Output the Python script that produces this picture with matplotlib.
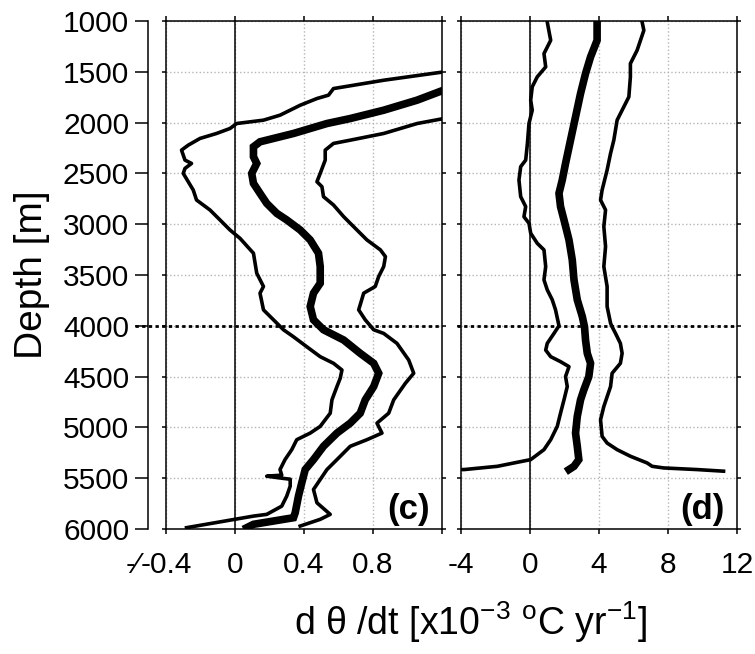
import matplotlib
matplotlib.use("Agg")
import matplotlib.pyplot as plt

plt.rcParams['font.family'] = ['Liberation Sans', 'DejaVu Sans']
plt.rcParams['mathtext.fontset'] = 'custom'
plt.rcParams['mathtext.rm'] = 'Liberation Sans'
plt.rcParams['mathtext.it'] = 'Liberation Sans:italic'

# ---- panel (c) ----
c_low_x = [1.21, 0.862, 0.571, 0.542, 0.475, 0.378, 0.261, 0.165, 0.01, -0.029, -0.107, -0.203,
           -0.271, -0.31, -0.29, -0.252, -0.29, -0.30, -0.271, -0.242, -0.223, -0.145, -0.087,
           -0.029, 0.029, 0.107, 0.126, 0.165, 0.145, 0.165, 0.223, 0.281, 0.339, 0.416, 0.494,
           0.571, 0.62, 0.61, 0.591, 0.562, 0.552, 0.494, 0.436, 0.358, 0.329, 0.29, 0.261,
           0.271, 0.184, 0.271, 0.32, 0.32, 0.30, 0.271, 0.184, 0.107, -0.281]
c_low_z = [1501, 1583, 1665, 1730, 1763, 1829, 1927, 1976, 2009, 2058, 2107, 2156,
           2222, 2271, 2369, 2402, 2451, 2500, 2582, 2664, 2762, 2860, 2958,
           3057, 3139, 3286, 3482, 3613, 3679, 3843, 3941, 4039, 4108, 4206, 4304,
           4369, 4435, 4516, 4598, 4729, 4860, 4990, 5056, 5121, 5219, 5317, 5415,
           5470, 5480, 5500, 5510, 5578, 5676, 5775, 5856, 5873, 5987]

c_mid_x = [1.21, 1.056, 0.862, 0.668, 0.533, 0.436, 0.339, 0.223, 0.145, 0.107, 0.107, 0.126,
           0.097, 0.107, 0.145, 0.184, 0.242, 0.30, 0.378, 0.436, 0.484, 0.494, 0.494, 0.455,
           0.436, 0.455, 0.513, 0.63, 0.726, 0.804, 0.833, 0.804, 0.755, 0.726, 0.668, 0.591,
           0.513, 0.455, 0.407, 0.387, 0.368, 0.349, 0.339, 0.107, 0.068]
c_mid_z = [1680, 1779, 1878, 1960, 2009, 2058, 2107, 2156, 2189, 2238, 2336, 2402,
           2500, 2598, 2696, 2795, 2893, 2958, 3057, 3155, 3286, 3417, 3581, 3679,
           3810, 3941, 4039, 4140, 4271, 4369, 4467, 4598, 4729, 4860, 4958, 5056,
           5186, 5317, 5415, 5546, 5676, 5840, 5889, 5954, 5987]

c_high_x = [1.21, 1.056, 0.862, 0.668, 0.571, 0.523, 0.523, 0.494, 0.475, 0.504, 0.513, 0.571,
            0.63, 0.707, 0.765, 0.843, 0.872, 0.862, 0.833, 0.813, 0.746, 0.717, 0.755, 0.804,
            0.862, 0.939, 1.007, 1.036, 0.988, 0.92, 0.891, 0.823, 0.852, 0.765, 0.668, 0.591,
            0.533, 0.494, 0.455, 0.475, 0.552, 0.494, 0.378]
c_high_z = [1960, 2009, 2107, 2173, 2205, 2271, 2369, 2500, 2582, 2631, 2729, 2811,
            2926, 3057, 3155, 3253, 3319, 3417, 3515, 3613, 3679, 3843, 3941, 4039,
            4075, 4173, 4337, 4467, 4565, 4729, 4860, 4958, 5056, 5121, 5186, 5317,
            5415, 5513, 5611, 5742, 5856, 5905, 5971]

# ---- panel (d) ----
d_low_x = [1.0, 1.2, 0.81, 0.91, 0.42, 0.13, 0.04, 0.13, -0.06, -0.15, -0.25, -0.54, -0.64,
           -0.54, -0.25, -0.35, -0.06, 0.04, 0.42, 0.81, 0.91, 0.81, 1.0, 1.29, 1.48, 1.68,
           1.39, 1.0, 0.91, 1.2, 1.77, 2.26, 2.06, 2.16, 1.97, 1.77, 1.58, 1.2, 0.81, 0.04,
           -0.93, -1.89, -3.82, -4.0]
d_low_z = [1010, 1190, 1321, 1452, 1550, 1648, 1779, 1878, 2009, 2205, 2369, 2434, 2565,
           2729, 2827, 2926, 2991, 3089, 3188, 3253, 3417, 3548, 3646, 3744, 3843, 4000,
           4075, 4173, 4239, 4304, 4353, 4402, 4500, 4598, 4729, 4860, 4990, 5121, 5219, 5317,
           5350, 5383, 5415, 5415]

d_mid_x = [3.89, 3.89, 3.51, 3.22, 2.93, 2.64, 2.35, 2.06, 1.87, 1.68, 1.77, 1.97, 2.26,
           2.45, 2.55, 2.74, 3.03, 3.16, 3.22, 3.32, 3.51, 3.41, 3.12, 2.93, 2.74, 2.64,
           2.74, 2.83, 2.55, 2.26]
d_mid_z = [1010, 1190, 1354, 1517, 1714, 1943, 2172, 2402, 2565, 2696, 2827, 2958, 3155,
           3351, 3548, 3744, 3908, 4010, 4141, 4271, 4369, 4500, 4631, 4729, 4892, 5056,
           5186, 5317, 5383, 5415]

d_high_x = [6.5, 6.6, 6.21, 5.82, 5.82, 5.73, 5.34, 5.05, 4.86, 4.67, 4.47, 4.18, 4.09,
            4.38, 4.28, 4.38, 4.28, 4.47, 4.47, 4.67, 4.76, 4.96, 5.24, 5.34, 5.24, 4.76,
            4.67, 4.28, 4.09, 4.18, 4.47, 5.05, 5.82, 6.79, 7.08, 7.75, 9.68, 11.22]
d_high_z = [1010, 1092, 1288, 1419, 1550, 1747, 1878, 1976, 2172, 2303, 2467, 2664, 2762,
            2860, 3024, 3220, 3417, 3613, 3810, 3974, 4010, 4075, 4173, 4271, 4369, 4467,
            4598, 4794, 4925, 5088, 5154, 5219, 5284, 5350, 5383, 5399, 5415, 5431]

depth_ticks = [1000, 1500, 2000, 2500, 3000, 3500, 4000, 4500, 5000, 5500, 6000]
c_xticks = [-0.4, 0, 0.4, 0.8, 1.2]
c_xlabels = ['-0.4', '0', '0.4', '0.8', '']
d_xticks = [-4, 0, 4, 8, 12]
d_xlabels = ['-4', '0', '4', '8', '12']

W, H = 755, 654
fig = plt.figure(figsize=(W / 100, H / 100), dpi=100)


def box(x0, x1, y0, y1):
    return [x0 / W, 1 - y1 / H, (x1 - x0) / W, (y1 - y0) / H]


ax_c = fig.add_axes(box(166, 442, 21, 529))
ax_d = fig.add_axes(box(461, 737, 21, 529))

panels = [
    (ax_c, (c_low_x, c_low_z), (c_mid_x, c_mid_z), (c_high_x, c_high_z),
     (-0.4, 1.2), c_xticks, c_xlabels, '(c)'),
    (ax_d, (d_low_x, d_low_z), (d_mid_x, d_mid_z), (d_high_x, d_high_z),
     (-4, 12), d_xticks, d_xlabels, '(d)'),
]

for ax, low, mid, high, xlim, xt, xl, tag in panels:
    ax.set_xlim(*xlim)
    ax.set_ylim(6000, 1000)
    ax.set_xticks(xt)
    ax.set_xticklabels(xl)
    ax.set_yticks(depth_ticks)
    ax.set_yticklabels([])
    ax.grid(True, color='#b5b5b5', linestyle=':', linewidth=1.0)
    ax.axvline(0, color='black', lw=1.1, zorder=2)
    ax.plot(*low, color='black', lw=2.6, solid_joinstyle='round', zorder=3)
    ax.plot(*high, color='black', lw=2.6, solid_joinstyle='round', zorder=3)
    ax.plot(*mid, color='black', lw=5.5, solid_joinstyle='miter', zorder=3)
    ax.tick_params(direction='out', length=3.6, width=1.1, top=True, right=True,
                   labelsize=21.5, pad=12)
    ax.tick_params(axis='y', length=3.2)
    for sp in ax.spines.values():
        sp.set_linewidth(1.1)
    ax.text(0.955, 0.02, tag, transform=ax.transAxes, ha='right', va='baseline',
            fontsize=25, fontweight='bold')

# thick dotted line at 4000 m
ax_c.axhline(4000, xmin=-0.112, xmax=1.0, color='black', lw=2.0,
             linestyle=(0, (1.2, 1.2)), clip_on=False, zorder=4)
ax_d.axhline(4000, xmin=-0.015, xmax=1.0, color='black', lw=2.0,
             linestyle=(0, (1.2, 1.2)), clip_on=False, zorder=4)

# depth axis offset to the left of panel (c)
sec = ax_c.secondary_yaxis(-18 / 276)
sec.set_yticks(depth_ticks)
sec.set_yticklabels([str(v) for v in depth_ticks])
sec.tick_params(direction='out', length=9.5, width=1.1, labelsize=21.5, pad=4)
sec.spines['left'].set_linewidth(1.1)

# clipped leftover label at the start of the x axis
ax_c.annotate('-\u2044', xy=(-0.4, 6000), xycoords='data', xytext=(-24, -26),
              textcoords='offset points', ha='center', va='center', fontsize=21.5)

fig.text(32 / W, 1 - 275 / H, 'Depth [m]', rotation=90, ha='center', va='center',
         fontsize=28)
fig.text(471 / W, 1 - 622 / H, 'd \u03b8 /dt [x10$^{-3}$ $^{\\rm o}$C yr$^{-1}$]',
         ha='center', va='center', fontsize=27)

fig.savefig('out.png', dpi=100)
